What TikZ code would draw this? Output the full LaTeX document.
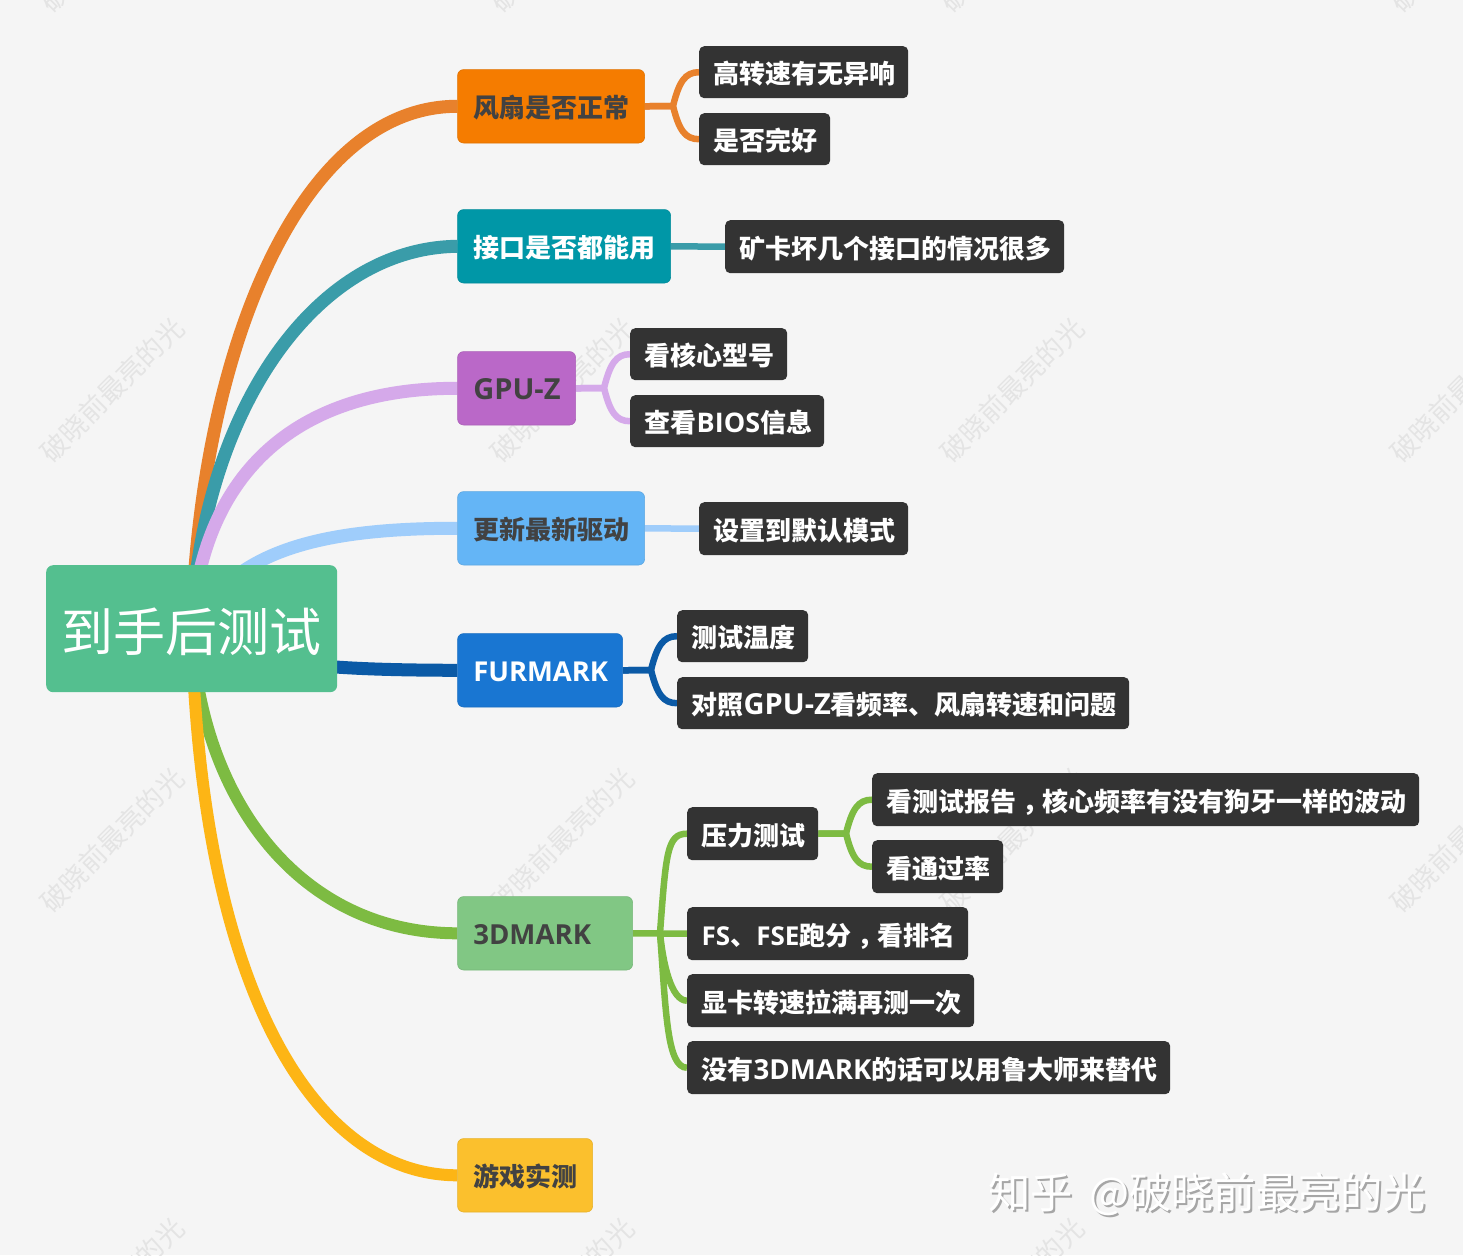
\documentclass[tikz,border=0pt]{standalone}
\usepackage{fontspec}
\newfontfamily\cjk{Noto Sans CJK SC}
\newfontfamily\latf{Open Sans}
\newcommand{\latn}[2][26]{{\latf\fontsize{#1}{30}\selectfont #2}}
\newcommand{\mbpad}[1]{\hspace*{1.2pt}#1}
\newcommand{\cmma}{\hspace*{6pt}，\hspace*{-6pt}}
\definecolor{bgc}{HTML}{F5F5F5}
\definecolor{wmc}{HTML}{E4E4E4}
\definecolor{darkbox}{HTML}{333333}
\definecolor{darktx}{HTML}{424242}
\definecolor{rootc}{HTML}{54BF8F}
\definecolor{mOrange}{HTML}{F57C00}
\definecolor{mTeal}{HTML}{0097A7}
\definecolor{mPurple}{HTML}{BA68C8}
\definecolor{mSky}{HTML}{64B5F6}
\definecolor{mBlue}{HTML}{1976D2}
\definecolor{mGreen}{HTML}{81C784}
\definecolor{mYellow}{HTML}{FBC02D}
\definecolor{lOrange}{HTML}{E8812C}
\definecolor{lTeal}{HTML}{3A9CA9}
\definecolor{lPurple}{HTML}{D5A9EA}
\definecolor{lSky}{HTML}{9FCDFB}
\definecolor{lBlue}{HTML}{0B5AA6}
\definecolor{lGreen}{HTML}{7DBB42}
\definecolor{lYellow}{HTML}{FDB515}
\pgfdeclarelayer{backdrop}
\pgfdeclarelayer{links}
\pgfsetlayers{backdrop,links,main}
\tikzset{
  x=1pt,y=-1pt,
  basebox/.style={anchor=north west,inner xsep=14.5pt,inner ysep=0pt,align=left,text height=24pt,text depth=1pt,font=\cjk\bfseries\fontsize{26}{30}\selectfont},
  mainbox/.style={basebox,rounded corners=6pt,fill=#1,draw=#1!92!black,line width=.6pt},
  leaf/.style={basebox,rounded corners=5pt,fill=darkbox,text=white},
  rootbox/.style={anchor=north west,rounded corners=7pt,fill=rootc,text=white,inner sep=0pt,align=center,text height=48pt,text depth=3pt,font=\cjk\fontsize{52}{56}\selectfont},
  trunk/.style={line width=13pt,draw=#1,line cap=butt},
  twig/.style={line width=6.5pt,draw=#1,line cap=butt},
  wmark/.style={rotate=45,text=wmc,inner sep=0pt,font=\cjk\fontsize{27}{30}\selectfont},
  brandtx/.style={anchor=west,inner sep=0pt,font=\cjk\fontsize{42.3}{46}\selectfont}
}
% style, name, x0, y0, x1, y1, text
\newcommand{\mkbox}[7]{%
  \pgfmathsetlengthmacro{\bw}{(#5-#3)*1pt-29pt}%
  \pgfmathsetlengthmacro{\bh}{(#6-#4)*1pt}%
  \node[#1,text width=\bw,minimum height=\bh] (#2) at (#3,#4) {\mbox{#7}};%
}
\begin{document}
\begin{tikzpicture}
\useasboundingbox (0,0) rectangle (1463,1255);
\begin{pgfonlayer}{backdrop}
\begin{scope}
\clip (0,0) rectangle (1463,1255);
\fill[bgc] (0,0) rectangle (1463,1255);
\foreach \wy in {-60,390,840,1290}{
  \foreach \wx in {112,562,1012,1462}{
    \node[wmark,name=wm-\wx-\wy] at (\wx,\wy) {破晓前最亮的光};
  }
}
\node[brandtx,text=black!35,name=brandshadow] at (990,1196) {知乎 \,@破晓前最亮的光};
\node[brandtx,text=white,name=brand] at (988,1194) {知乎 \,@破晓前最亮的光};
\end{scope}
\end{pgfonlayer}
% nodes
\mkbox{mainbox=mOrange,text=darktx}{fan}{457.3}{69.3}{644.3}{142.7}{\mbpad{风扇是否正常}}
\mkbox{mainbox=mTeal,text=white}{port}{457.3}{209.3}{670.3}{282.7}{\mbpad{接口是否都能用}}
\mkbox{mainbox=mPurple,text=darktx}{gpuz}{457.3}{351.3}{575.3}{424.7}{\mbpad{\latn[29]{GPU-Z}}}
\mkbox{mainbox=mSky,text=darktx}{drv}{457.3}{491.3}{644.3}{564.7}{\mbpad{更新最新驱动}}
\mkbox{mainbox=mBlue,text=white}{fur}{457.3}{633.3}{622.3}{706.7}{\mbpad{\latn[27.4]{FURMARK}}}
\mkbox{mainbox=mGreen,text=darktx}{tdm}{457.3}{896.3}{632.3}{969.7}{\mbpad{\latn[27.6]{3DMARK}}}
\mkbox{mainbox=mYellow,text=darktx}{game}{457.3}{1138.3}{592.3}{1211.7}{\mbpad{游戏实测}}
\mkbox{leaf}{a1}{699}{46}{908}{98}{高转速有无异响}
\mkbox{leaf}{a2}{699}{113}{830}{165}{是否完好}
\mkbox{leaf}{b1}{725}{220}{1064}{273}{矿卡坏几个接口的情况很多}
\mkbox{leaf}{c1}{630}{328}{787}{380}{看核心型号}
\mkbox{leaf}{c2}{630}{395}{824}{447}{查看\latn[27]{BIOS}信息}
\mkbox{leaf}{d1}{699}{502}{908}{555}{设置到默认模式}
\mkbox{leaf}{e1}{677}{610}{808}{662}{测试温度}
\mkbox{leaf}{e2}{677}{677}{1129}{729}{对照\latn[29]{GPU-Z}看频率、风扇转速和问题}
\mkbox{leaf}{f1}{687}{807}{818}{860}{压力测试}
\mkbox{leaf}{g1}{872}{773}{1419}{826}{看测试报告\cmma 核心频率有没有狗牙一样的波动}
\mkbox{leaf}{g2}{872}{840}{1003}{893}{看通过率}
\mkbox{leaf}{f2}{687}{907}{968}{960}{\latn{FS}、\latn{FSE}跑分\cmma 看排名}
\mkbox{leaf}{f3}{687}{974}{974}{1027}{显卡转速拉满再测一次}
\mkbox{leaf}{f4}{687}{1041}{1170}{1094}{没有\latn[27.6]{3DMARK}的话可以用鲁大师来替代}
\node[rootbox,minimum width=291pt,minimum height=127pt] (root) at (46,565) {到手后测试};
% fork points
\coordinate (fa) at (673,106);
\coordinate (fc) at (604,388);
\coordinate (fe) at (651,670);
\coordinate (ff) at (660,933);
\coordinate (fg) at (846,833.5);
\begin{pgfonlayer}{links}
% trunks
\draw[trunk=lOrange] (root.center) .. controls (200,350) and (300,106) .. (fan.west);
\draw[trunk=lTeal] (root.center) .. controls (200,420) and (310,248) .. (port.west);
\draw[trunk=lPurple] (root.center) .. controls (200,490) and (280,388) .. (gpuz.west);
\draw[trunk=lSky] (root.center) .. controls (230,555) and (310,528) .. (drv.west);
\draw[trunk=lBlue] (root.center) .. controls (240,665) and (330,670) .. (fur.west);
\draw[trunk=lGreen,line width=12pt] (root.center) .. controls (200,800) and (300,933) .. (tdm.west);
\draw[trunk=lYellow,line width=12pt] (root.center) .. controls (200,980) and (310,1175) .. (game.west);
% twigs
\draw[twig=lOrange] (fan.east) -- (fa) .. controls +(6,-24) and +(-14,0) .. (a1.west);
\draw[twig=lOrange] (fan.east) -- (fa) .. controls +(6,24) and +(-14,0) .. (a2.west);
\draw[twig=lTeal] (port.east) -- (b1.west);
\draw[twig=lPurple] (gpuz.east) -- (fc) .. controls +(6,-24) and +(-14,0) .. (c1.west);
\draw[twig=lPurple] (gpuz.east) -- (fc) .. controls +(6,24) and +(-14,0) .. (c2.west);
\draw[twig=lSky] (drv.east) -- (d1.west);
\draw[twig=lBlue] (fur.east) -- (fe) .. controls +(6,-24) and +(-14,0) .. (e1.west);
\draw[twig=lBlue] (fur.east) -- (fe) .. controls +(6,24) and +(-14,0) .. (e2.west);
\draw[twig=lGreen] (tdm.east) -- (f2.west);
\draw[twig=lGreen] (ff) .. controls +(6,-80) and +(-20,0) .. (f1.west);
\draw[twig=lGreen] (ff) .. controls +(3,30) and +(-16,0) .. (f3.west);
\draw[twig=lGreen] (ff) .. controls +(6,80) and +(-20,0) .. (f4.west);
\draw[twig=lGreen] (f1.east) -- (fg) .. controls +(6,-24) and +(-14,0) .. (g1.west);
\draw[twig=lGreen] (f1.east) -- (fg) .. controls +(6,24) and +(-14,0) .. (g2.west);
\end{pgfonlayer}
\end{tikzpicture}
\end{document}
